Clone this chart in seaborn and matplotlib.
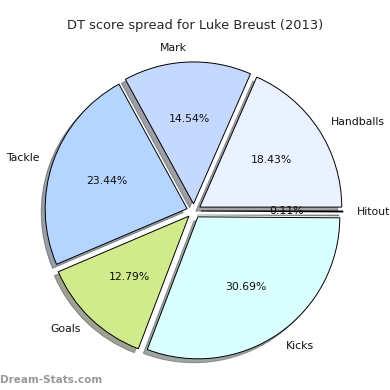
#!/usr/bin/env python3
"""Répartition des points DT pour Luke Breust (2013) — camembert éclaté avec ombre."""

import seaborn as sns
from matplotlib import pyplot as plt

# Données (pourcentages)
stats = ["Handballs", "Mark", "Tackle", "Goals", "Kicks", "Hitout"]
shares = [18.43, 14.54, 23.44, 12.79, 30.69, 0.11]
wedge_colors = ["#eaf1ff", "#c5d8ff", "#b4d5ff", "#d1ea8c", "#d9ffff", "#ffffff"]
explode = [0.05] * len(stats)


def main():
    sns.set_style("white")
    plt.rcParams["font.family"] = ["DejaVu Sans"]

    fig = plt.figure(figsize=(3.9, 3.9), dpi=100)
    ax = fig.add_axes([0.042, 0.004, 0.91, 0.91])

    ax.pie(
        shares,
        labels=stats,
        colors=wedge_colors,
        explode=explode,
        autopct="%.2f%%",
        shadow=True,
        startangle=0,
        wedgeprops={"edgecolor": "black", "linewidth": 0.7},
        textprops={"fontsize": 7.8, "color": "#111111"},
    )
    ax.set_aspect("equal")

    fig.text(0.5, 1 - 25 / 390, "DT score spread for Luke Breust (2013)",
             ha="center", va="center", fontsize=9.4)
    fig.text(0.0, 1 - 380 / 390, "Dream-Stats.com", ha="left", va="center",
             fontsize=7.5, fontweight="bold", color="#999999")

    fig.savefig("out.png", dpi=100)


if __name__ == "__main__":
    main()
